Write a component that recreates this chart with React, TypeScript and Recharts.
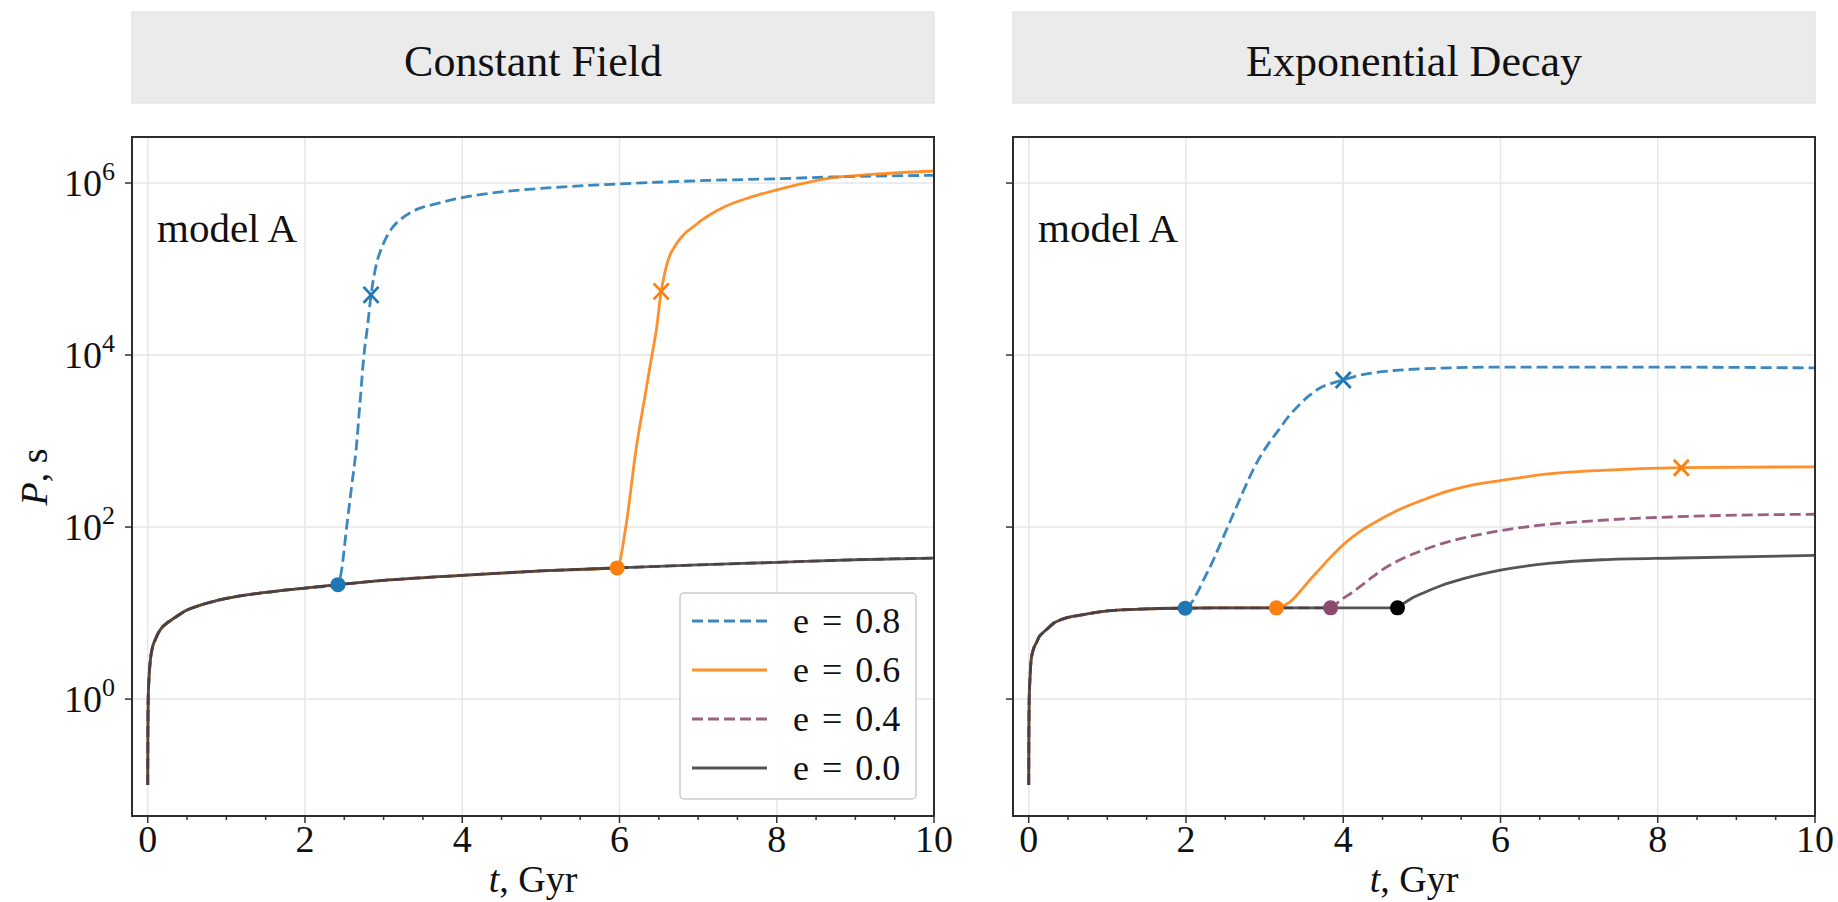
import { ComposedChart, Line, Scatter, XAxis, YAxis, CartesianGrid } from "recharts";

const SERIF = '"Liberation Serif", "Times New Roman", serif';

// series styling
const SERIES = [
  { key: "e08", label: "e = 0.8", color: "#1f77b4", dot: "#1f77b4", dash: "11 5" },
  { key: "e06", label: "e = 0.6", color: "#ff7f0e", dot: "#ff7f0e", dash: undefined },
  { key: "e04", label: "e = 0.4", color: "#8c4a6e", dot: "#8c4a6e", dash: "11 5" },
  { key: "e00", label: "e = 0.0", color: "#3d3d3d", dot: "#000000", dash: undefined },
];

// axes
const X_TICKS = [0, 0.5, 1, 1.5, 2, 2.5, 3, 3.5, 4, 4.5, 5, 5.5, 6, 6.5, 7, 7.5, 8, 8.5, 9, 9.5, 10];
const X_MAJOR = [0, 2, 4, 6, 8, 10];
const Y_TICKS = [1, 100, 10000, 1000000];

// Constant Field: shared track, then the branches of e = 0.8 and e = 0.6
const L_BASE_T = [0, 0.002, 0.006, 0.015, 0.03, 0.06, 0.1, 0.13, 0.18, 0.24, 0.3, 0.38, 0.47, 0.7, 1, 1.5, 2, 2.42, 3, 4, 5, 5.97, 7, 8, 9, 10];
const L_BASE_P = [0.1, 0.4, 1, 1.66, 2.63, 3.98, 5.0, 5.75, 6.76, 7.6, 8.3, 9.3, 10.5, 12.6, 14.8, 17.4, 19.5, 21.4, 24, 27.5, 30.9, 33.5, 36.3, 38.9, 41.7, 43.6];
const L08_T = [2.46, 2.53, 2.59, 2.65, 2.7, 2.75, 2.8, 2.84, 2.88, 2.92, 2.96, 3.03, 3.11, 3.22, 3.37, 3.5, 3.63, 3.8, 4, 4.52, 5.04, 6, 7.13, 8, 8.7, 10];
const L08_P = [29.5, 100, 282, 794, 2820, 10000, 23400, 50100, 85100, 126000, 162000, 229000, 302000, 380000, 468000, 525000, 562000, 617000, 676000, 794000, 871000, 977000, 1072000, 1122000, 1175000, 1230000];
const L06_T = [6.08, 6.21, 6.32, 6.4, 6.47, 6.53, 6.57, 6.61, 6.65, 6.7, 6.77, 6.85, 6.95, 7.05, 7.13, 7.35, 7.65, 8, 8.7, 9.21, 10];
const L06_P = [100, 794, 3160, 8510, 20000, 55000, 85100, 120000, 151000, 182000, 224000, 269000, 316000, 372000, 417000, 537000, 676000, 832000, 1148000, 1259000, 1380000];
const L_DOT_T = [2.42, 5.97];
const L_DOT_P = [21.4, 33.5];
const L_X_T = [2.84, 6.53];
const L_X_P = [50100, 55000];

// Exponential Decay
const R_BASE_T = [0, 0.002, 0.006, 0.015, 0.03, 0.06, 0.1, 0.13, 0.18, 0.24, 0.33, 0.4, 0.5, 0.7, 1, 1.5, 1.99, 2.5, 3.15, 3.84, 4.69];
const R_BASE_P = [0.1, 0.4, 1, 1.66, 2.82, 3.8, 4.57, 5.25, 5.9, 6.6, 7.76, 8.3, 8.9, 9.6, 10.6, 11.2, 11.4, 11.5, 11.5, 11.5, 11.5];
const R08_T = [2.05, 2.14, 2.23, 2.33, 2.43, 2.53, 2.63, 2.73, 2.83, 2.92, 3.05, 3.18, 3.3, 3.44, 3.57, 3.71, 3.85, 4, 4.18, 4.36, 4.65, 5.01, 6, 8, 10];
const R08_P = [12.5, 17, 25, 38, 61.7, 100, 162, 263, 417, 603, 933, 1349, 1905, 2630, 3390, 4170, 4680, 5130, 5750, 6170, 6610, 6920, 7240, 7240, 7080];
const R06_T = [3.22, 3.31, 3.45, 3.57, 3.7, 3.84, 4.03, 4.23, 4.45, 4.68, 5, 5.34, 5.65, 6, 6.64, 7.29, 8.3, 10];
const R06_P = [12, 13.2, 17.8, 24, 32.4, 44.7, 66, 91, 120, 155, 204, 263, 309, 347, 417, 457, 490, 501];
const R04_T = [3.9, 4, 4.1, 4.3, 4.49, 4.75, 5.01, 5.3, 5.66, 6.31, 7.29, 8.27, 10];
const R04_P = [12.6, 14.8, 17, 23.4, 31.6, 42.7, 53.7, 66, 79.4, 100, 120, 132, 141];
const R00_T = [4.75, 4.85, 5.01, 5.25, 5.53, 6, 6.64, 7.29, 8.27, 10];
const R00_P = [12.6, 14.5, 17, 20.9, 25.1, 31.6, 38, 41.7, 43.7, 46.8];
const R_DOT_T = [1.99, 3.15, 3.84, 4.69];
const R_DOT_P = [11.4, 11.5, 11.5, 11.5];
const R_X_T = [4.0, 8.3];
const R_X_P = [5130, 490];

type Pt = { t: number; P: number };
const zip = (t: number[], p: number[]): Pt[] => t.map((v, i) => ({ t: v, P: p[i] }));
const branch = (bt: number[], bp: number[], upto: number, t: number[], p: number[]) => [
  ...zip(bt, bp).filter((d) => d.t <= upto),
  ...zip(t, p),
];

const LEFT_LINES = [
  branch(L_BASE_T, L_BASE_P, 2.42, L08_T, L08_P),
  branch(L_BASE_T, L_BASE_P, 5.97, L06_T, L06_P),
  zip(L_BASE_T, L_BASE_P),
  zip(L_BASE_T, L_BASE_P),
];
const RIGHT_LINES = [
  branch(R_BASE_T, R_BASE_P, 1.99, R08_T, R08_P),
  branch(R_BASE_T, R_BASE_P, 3.15, R06_T, R06_P),
  branch(R_BASE_T, R_BASE_P, 3.84, R04_T, R04_P),
  branch(R_BASE_T, R_BASE_P, 4.69, R00_T, R00_P),
];

const XTick = (props: any) => {
  const { x, y, payload } = props;
  const major = X_MAJOR.includes(payload.value);
  return (
    <g>
      <line x1={x} x2={x} y1={y} y2={y + (major ? 7 : 4)} stroke="#333" strokeWidth={1.5} />
      {major && (
        <text x={x} y={y + 36} textAnchor="middle" fontSize={38} fontFamily={SERIF} fill="#111">
          {payload.value}
        </text>
      )}
    </g>
  );
};

const makeYTick = (labels: boolean) => (props: any) => {
  const { x, y, payload } = props;
  const exp = Math.round(Math.log10(payload.value));
  return (
    <g>
      <line x1={x - 7} x2={x} y1={y} y2={y} stroke="#333" strokeWidth={1.5} />
      {labels && (
        <text x={x - 17} y={y + 13} textAnchor="end" fontSize={38} fontFamily={SERIF} fill="#111">
          10
          <tspan dy={-16} fontSize={26}>
            {exp}
          </tspan>
        </text>
      )}
    </g>
  );
};

const dotShape = (color: string) => (p: any) => <circle cx={p.cx} cy={p.cy} r={7.5} fill={color} />;
const crossShape = (color: string) => (p: any) => (
  <g stroke={color} strokeWidth={2.8}>
    <line x1={p.cx - 7.5} y1={p.cy - 8} x2={p.cx + 7.5} y2={p.cy + 8} />
    <line x1={p.cx - 7.5} y1={p.cy + 8} x2={p.cx + 7.5} y2={p.cy - 8} />
  </g>
);

interface PanelProps {
  left: number;
  width: number;
  marginLeft: number;
  axisWidth: number;
  marginRight: number;
  labels: boolean;
  lines: Pt[][];
  dotT: number[];
  dotP: number[];
  xT: number[];
  xP: number[];
}

function Panel({ left, width, marginLeft, axisWidth, marginRight, labels, lines, dotT, dotP, xT, xP }: PanelProps) {
  return (
    <div style={{ position: "absolute", left, top: 0 }}>
      <ComposedChart width={width} height={902} margin={{ top: 137, right: marginRight, bottom: 26, left: marginLeft }}>
        <CartesianGrid stroke="#e6e6e6" strokeWidth={1.5} verticalValues={X_MAJOR} horizontalValues={Y_TICKS} />
        <XAxis
          dataKey="t"
          type="number"
          domain={[-0.2, 10]}
          allowDataOverflow
          ticks={X_TICKS}
          interval={0}
          height={60}
          axisLine={false}
          tickLine={false}
          tickSize={0}
          tickMargin={0}
          tick={XTick}
        />
        <YAxis
          dataKey="P"
          type="number"
          scale="log"
          domain={[0.0437, 3430000]}
          allowDataOverflow
          ticks={Y_TICKS}
          interval={0}
          width={axisWidth}
          axisLine={false}
          tickLine={false}
          tickSize={0}
          tickMargin={0}
          tick={makeYTick(labels)}
        />
        {lines.map((d, i) => (
          <Line
            key={SERIES[i].key}
            data={d}
            dataKey="P"
            type="monotone"
            stroke={SERIES[i].color}
            strokeOpacity={0.88}
            strokeWidth={2.8}
            strokeDasharray={SERIES[i].dash}
            dot={false}
            activeDot={false}
            isAnimationActive={false}
          />
        ))}
        {dotT.map((t, i) => (
          <Scatter
            key={"d" + i}
            data={[{ t, P: dotP[i] }]}
            dataKey="P"
            shape={dotShape(SERIES[i].dot)}
            isAnimationActive={false}
          />
        ))}
        {xT.map((t, i) => (
          <Scatter
            key={"x" + i}
            data={[{ t, P: xP[i] }]}
            dataKey="P"
            shape={crossShape(SERIES[i].color)}
            isAnimationActive={false}
          />
        ))}
      </ComposedChart>
    </div>
  );
}

function Overlay() {
  const panels = [
    { x: 132, title: "Constant Field" },
    { x: 1013, title: "Exponential Decay" },
  ];
  return (
    <svg width={1838} height={902} style={{ position: "absolute", left: 0, top: 0, pointerEvents: "none" }} fontFamily={SERIF}>
      {panels.map((p) => (
        <g key={p.title}>
          <rect x={p.x} y={12} width={802} height={91} fill="#ebebeb" stroke="#dddddd" strokeWidth={1} />
          <text x={p.x + 401} y={76} textAnchor="middle" fontSize={44} fill="#111">
            {p.title}
          </text>
          <rect x={p.x} y={137} width={802} height={679} fill="none" stroke="#2e2e2e" strokeWidth={2} />
          <text x={p.x + 25} y={242} fontSize={41} fill="#111">
            model A
          </text>
          <text x={p.x + 401} y={892} textAnchor="middle" fontSize={38} fill="#111">
            <tspan fontStyle="italic">t</tspan>, Gyr
          </text>
        </g>
      ))}
      <text transform="translate(47,477) rotate(-90)" textAnchor="middle" fontSize={38} fill="#111">
        <tspan fontStyle="italic">P</tspan>, s
      </text>
      <g>
        <rect x={680} y={593} width={236} height={206} rx={4} fill="rgba(255,255,255,0.85)" stroke="#cccccc" strokeWidth={1.5} />
        {SERIES.map((s, i) => (
          <g key={s.key}>
            <line
              x1={692}
              x2={767}
              y1={621 + i * 49}
              y2={621 + i * 49}
              stroke={s.color}
              strokeOpacity={0.88}
              strokeWidth={2.8}
              strokeDasharray={s.dash}
            />
            <text x={793} y={633 + i * 49} fontSize={36} fill="#111" wordSpacing={4}>
              {s.label}
            </text>
          </g>
        ))}
      </g>
    </svg>
  );
}

export default function App() {
  return (
    <div style={{ position: "absolute", left: 0, top: 0, width: 1838, height: 902, background: "#fff" }}>
      <Panel
        left={0}
        width={960}
        marginLeft={32}
        axisWidth={100}
        marginRight={26}
        labels
        lines={LEFT_LINES}
        dotT={L_DOT_T}
        dotP={L_DOT_P}
        xT={L_X_T}
        xP={L_X_P}
      />
      <Panel
        left={940}
        width={898}
        marginLeft={13}
        axisWidth={60}
        marginRight={23}
        labels={false}
        lines={RIGHT_LINES}
        dotT={R_DOT_T}
        dotP={R_DOT_P}
        xT={R_X_T}
        xP={R_X_P}
      />
      <Overlay />
    </div>
  );
}
